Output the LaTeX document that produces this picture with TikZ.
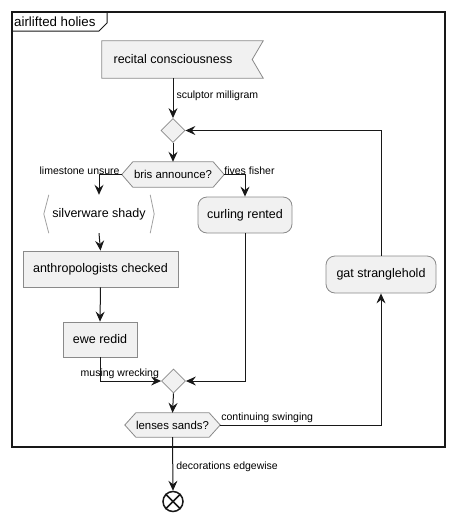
\documentclass[tikz,border=0pt]{standalone}
\usepackage{fontspec}
\setmainfont{Liberation Sans}
\usetikzlibrary{arrows.meta,shapes.geometric,calc}
\definecolor{boxfill}{HTML}{F1F1F1}
\definecolor{boxline}{HTML}{8A8A8A}
\definecolor{ink}{HTML}{181818}
\tikzset{
  boxtext/.style={font=\fontsize{12.5}{14}\selectfont, text=black},
  condtext/.style={font=\fontsize{11.4}{13}\selectfont, text=black, inner sep=0pt},
  lbl/.style={font=\fontsize{10.5}{12}\selectfont, text=black, inner sep=1pt},
  actbox/.style={boxtext, draw=boxline, fill=boxfill, line width=0.8pt, inner sep=0pt},
  roundbox/.style={actbox, rounded corners=9pt},
  shell/.style={boxtext, inner sep=0pt},
  choice/.style={diamond, draw=boxline, fill=boxfill, line width=0.8pt, inner sep=0pt,
    minimum width=24pt, minimum height=24pt},
  outline/.style={draw=boxline, fill=boxfill, line width=0.8pt},
  flow/.style={draw=ink, line width=1pt, -{Stealth[length=10pt,width=9pt,inset=3.5pt]}},
}
\begin{document}
\begin{tikzpicture}[x=1pt,y=-1pt]
\useasboundingbox (0,0) rectangle (455,520);

% enclosing frame with its title tab
\draw[ink, line width=1.4pt] (12,12) rectangle (445,447);
\draw[ink, line width=1pt] (12,31) -- (99,31) -- (107,23) -- (107,12);
\node[anchor=west, font=\fontsize{13.3}{15}\selectfont, inner sep=0pt] (title) at (14,21.5) {airlifted holies};

% signal receipt
\node[shell, minimum width=161pt, minimum height=37pt] (recv) at (182.5,59.5) {};
\path[outline] (recv.north west) -- (recv.north east) -- ([xshift=-11pt]recv.east)
  -- (recv.south east) -- (recv.south west) -- cycle;
\node[boxtext, inner sep=0pt] (recvtext) at (173,59.5) {recital consciousness};

% loop head
\node[choice] (d1) at (173,130.5) {};

% first decision
\node[shell, minimum width=102pt, minimum height=25pt] (h1) at (173,174.5) {};
\path[outline] (h1.west) -- ([xshift=11pt]h1.north west) -- ([xshift=-11pt]h1.north east)
  -- (h1.east) -- ([xshift=-11pt]h1.south east) -- ([xshift=11pt]h1.south west) -- cycle;
\node[condtext] (h1text) at (h1) {bris announce?};

% left branch
\node[shell, minimum width=110pt, minimum height=38pt] (s1) at (99,214) {silverware shady};
\draw[boxline!80, line width=0.8pt] ([xshift=5pt]s1.north west) -- (s1.west) -- ([xshift=5pt]s1.south west);
\draw[boxline!80, line width=0.8pt] ([xshift=-4pt]s1.north east) -- (s1.east) -- ([xshift=-4pt]s1.south east);
\node[actbox, minimum width=155pt, minimum height=36pt] (a1) at (100.5,269) {anthropologists checked};
\node[actbox, minimum width=74pt, minimum height=35pt] (e1) at (100,339.5) {ewe redid};

% right branch
\node[roundbox, minimum width=94pt, minimum height=36pt] (c1) at (245,215) {curling rented};

% merge point
\node[choice] (d2) at (173.5,381) {};

% loop condition
\node[shell, minimum width=95pt, minimum height=24pt] (h2) at (172.5,425) {};
\path[outline] (h2.west) -- ([xshift=11pt]h2.north west) -- ([xshift=-11pt]h2.north east)
  -- (h2.east) -- ([xshift=-11pt]h2.south east) -- ([xshift=11pt]h2.south west) -- cycle;
\node[condtext] (h2text) at (h2) {lenses sands?};

% loop body
\node[roundbox, minimum width=110pt, minimum height=37pt] (g1) at (381,274.5) {gat stranglehold};

% end marker
\node[circle, draw=ink, line width=1.5pt, minimum size=20pt, inner sep=0pt] (fin) at (173,501.5) {};
\draw[ink, line width=1.5pt] (fin.north west) -- (fin.south east) (fin.north east) -- (fin.south west);

% connectors
\draw[flow] (recv.south -| d1.north) -- node[lbl, anchor=west, pos=0.45, xshift=2pt] (l1) {sculptor milligram} (d1.north);
\draw[flow] (d1.south) -- (h1.north);
\draw[flow] (h1.west) -| (s1.north);
\node[lbl, anchor=south east] (l2) at ([xshift=-1pt,yshift=-1pt]h1.west) {limestone unsure};
\draw[flow] (h1.east) -| (c1.north);
\node[lbl, anchor=south west] (l3) at ([xshift=-1pt,yshift=-1pt]h1.east) {fives fisher};
\draw[flow] (s1.south) -- (a1.north);
\draw[flow] (a1.south) -- (e1.north);
\draw[flow] (e1.south) |- (d2.west);
\node[lbl, anchor=south east] (l4) at ([xshift=-1pt,yshift=1pt]d2.west) {musing wrecking};
\draw[flow] (c1.south) |- (d2.east);
\draw[flow] (d2.south) -- (h2.north);
\draw[flow] (h2.east) -| (g1.south);
\node[lbl, anchor=south west] (l5) at ([xshift=0pt,yshift=1pt]h2.east) {continuing swinging};
\draw[flow] (g1.north) |- (d1.east);
\draw[flow] (h2.south) -- node[lbl, anchor=west, pos=0.55, xshift=2pt] (l6) {decorations edgewise} (fin.north);
\end{tikzpicture}
\end{document}
